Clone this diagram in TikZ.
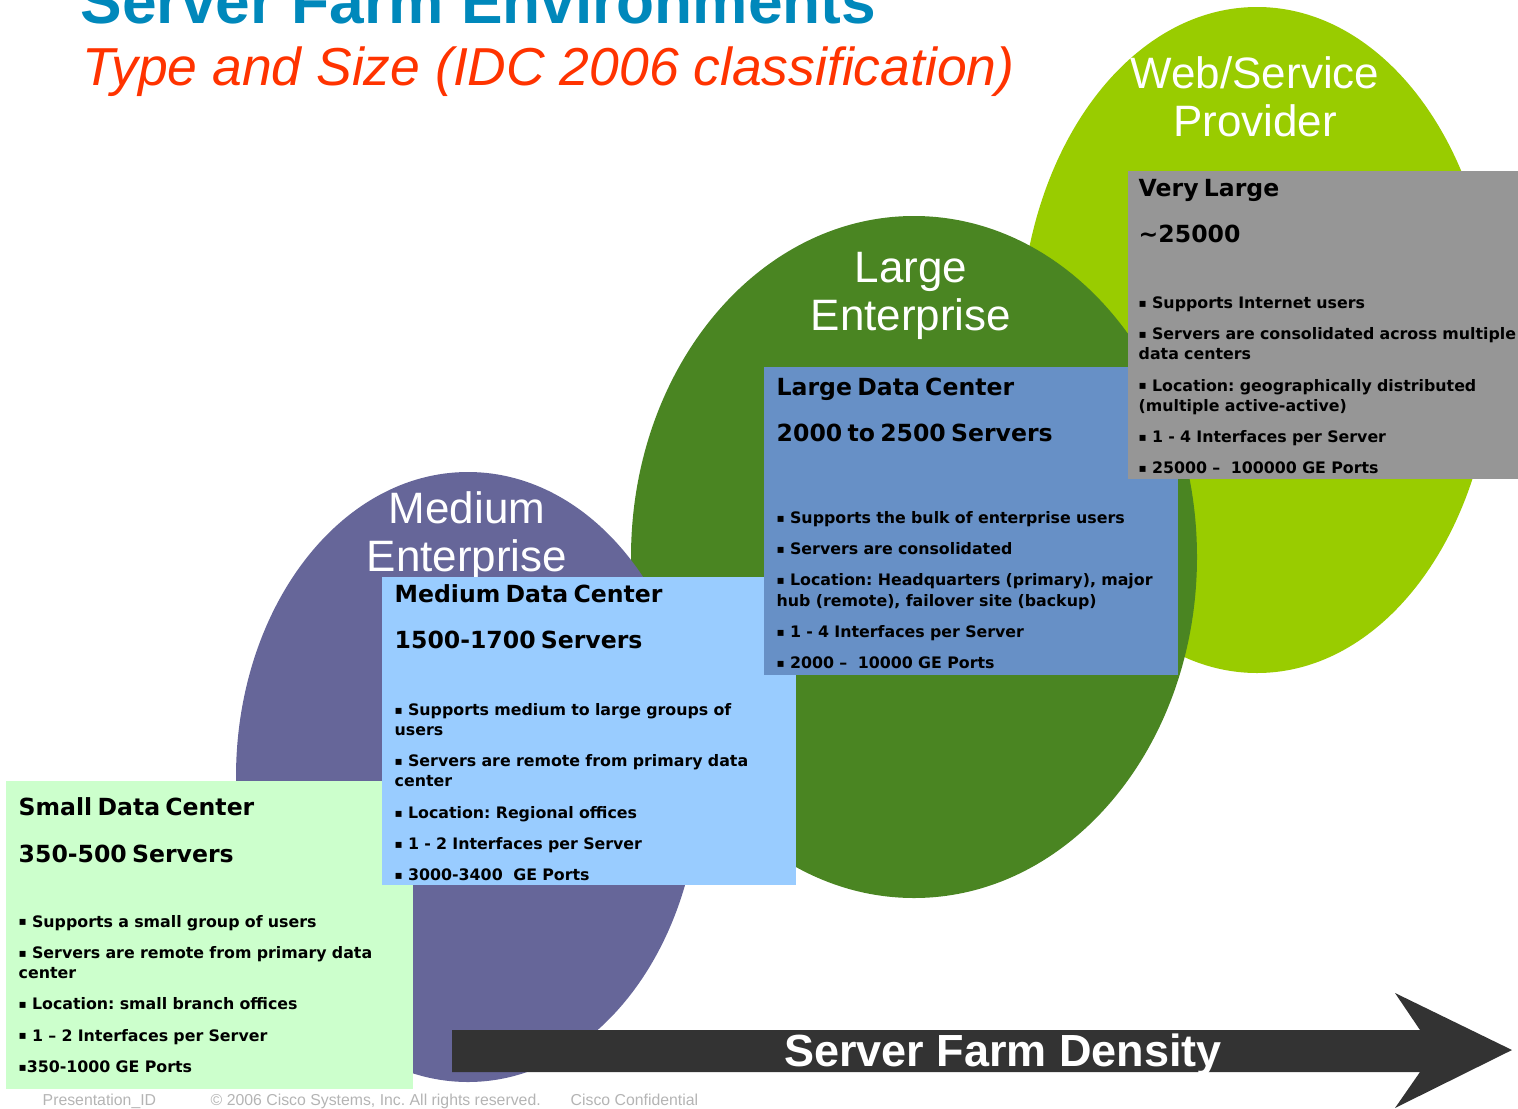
\documentclass[tikz,border=0pt]{standalone}
\usepackage{fontspec}
\setmainfont{Liberation Sans}
\newfontfamily\tahomafam{DejaVu Sans}
\frenchspacing

\definecolor{webgreen}{HTML}{99CC00}
\definecolor{entgreen}{HTML}{4A8522}
\definecolor{medpurple}{HTML}{666699}
\definecolor{smallfill}{HTML}{CCFFCC}
\definecolor{medfill}{HTML}{99CCFF}
\definecolor{largefill}{HTML}{6790C6}
\definecolor{vlfill}{HTML}{969696}
\definecolor{titleblue}{HTML}{0088BB}
\definecolor{subred}{HTML}{FF3300}
\definecolor{arrowgrey}{HTML}{333333}
\definecolor{footgrey}{HTML}{B4B4B4}

\newcommand{\dcbody}{\tahomafam\bfseries\fontsize{4.5}{5.7}\selectfont}
\newcommand{\dchead}{\tahomafam\bfseries\fontsize{6.7}{13.2}\selectfont}
\newcommand{\blobfont}{\fontsize{12.5}{13.9}\selectfont}
\newcommand{\dcnext}{\par\vspace{3.2pt}}
\newcommand{\dcbul}{\raisebox{0.35pt}{\fontsize{3.4}{5.7}\selectfont▪}}

\begin{document}
\begin{tikzpicture}[x=0.01cm,y=-0.01cm,
  blobtext/.style={anchor=base, inner sep=0pt, text width=3cm, align=center, text=white, font=\blobfont},
  dcbox/.style={anchor=north west, inner sep=0pt, fill=#1, minimum height=3.08cm},
  dctext/.style={anchor=base west, inner sep=0pt, text width=5cm, align=left, font=\dcbody},
  foot/.style={anchor=base west, inner sep=0pt, text=footgrey, font=\fontsize{4.5}{5}\selectfont}]
\useasboundingbox (0,0) rectangle (1518,1109);

\fill[webgreen] (1257,340) ellipse [x radius=237, y radius=333];
\fill[entgreen] (914,557) ellipse [x radius=283, y radius=341];
\fill[medpurple] (468,777) ellipse [x radius=232, y radius=305];

\node[anchor=base west, inner sep=0pt, text=titleblue, font=\bfseries\fontsize{17.7}{20}\selectfont] (title) at (80,24) {Server Farm Environments};
\node[anchor=base west, inner sep=0pt, text=subred, font=\itshape\fontsize{15.2}{18}\selectfont] (subtitle) at (82,85) {Type and Size (IDC 2006 classification)};

\node[blobtext] (weblbl) at (1255,88) {Web/Service\\Provider};
\node[blobtext] (largelbl) at (911,282) {Large\\Enterprise};
\node[blobtext] (medlbl) at (467,523) {Medium\\Enterprise};

\node[dcbox=smallfill, minimum width=4.07cm] (smallbox) at (5,780) {};
\node[dctext] (smalltxt) at ([shift={(13,35.7)}]smallbox.north west) {%
  {\dchead Small Data Center\par 350-500 Servers\par}
  \vspace{12.8pt}
  \dcbul\ Supports a small group of users\dcnext
  \dcbul\ Servers are remote from primary data\\center\dcnext
  \dcbul\ Location: small branch offices\dcnext
  \dcbul\ 1 – 2 Interfaces per Server\dcnext
  \dcbul350-1000 GE Ports};

\node[dcbox=medfill, minimum width=4.14cm] (medbox) at (381,576) {};
\node[dctext] (medtxt) at ([shift={(13,26)}]medbox.north west) {%
  {\dchead Medium Data Center\par 1500-1700 Servers\par}
  \vspace{13.4pt}
  \dcbul\ Supports medium to large groups of\\users\dcnext
  \dcbul\ Servers are remote from primary data\\center\dcnext
  \dcbul\ Location: Regional offices\dcnext
  \dcbul\ 1 - 2 Interfaces per Server\dcnext
  \dcbul\ 3000-3400~ GE Ports};

\node[dcbox=largefill, minimum width=4.14cm] (largebox) at (763,366) {};
\node[dctext] (largetxt) at ([shift={(13,29)}]largebox.north west) {%
  {\dchead Large Data Center\par 2000 to 2500 Servers\par}
  \vspace{17.6pt}
  \dcbul\ Supports the bulk of enterprise users\dcnext
  \dcbul\ Servers are consolidated\dcnext
  \dcbul\ Location: Headquarters (primary), major\\hub (remote), failover site (backup)\dcnext
  \dcbul\ 1 - 4 Interfaces per Server\dcnext
  \dcbul\ 2000 –~ 10000 GE Ports};

\node[dcbox=vlfill, minimum width=3.91cm] (vlbox) at (1127,170) {};
\node[dctext] (vltxt) at ([shift={(11,26)}]vlbox.north west) {%
  {\dchead Very Large\par \textasciitilde25000\par}
  \vspace{13.1pt}
  \dcbul\ Supports Internet users\dcnext
  \dcbul\ Servers are consolidated across multiple\\data centers\dcnext
  \dcbul\ Location: geographically distributed\\(multiple active-active)\dcnext
  \dcbul\ 1 - 4 Interfaces per Server\dcnext
  \dcbul\ 25000 –~ 100000 GE Ports};

\fill[arrowgrey] (452,1030) -- (1420,1030) -- (1395,993) -- (1512,1050) -- (1395,1108) -- (1420,1072) -- (452,1072) -- cycle;
\node[anchor=base, inner sep=0pt, text=white, font=\bfseries\fontsize{12.8}{14}\selectfont] (density) at (1003,1066) {Server Farm Density};

\node[foot] (presid) at (42,1105) {Presentation\_ID};
\node[foot] (copy) at (210,1105) {© 2006 Cisco Systems, Inc. All rights reserved.};
\node[foot] (conf) at (570,1105) {Cisco Confidential};
\end{tikzpicture}
\end{document}
